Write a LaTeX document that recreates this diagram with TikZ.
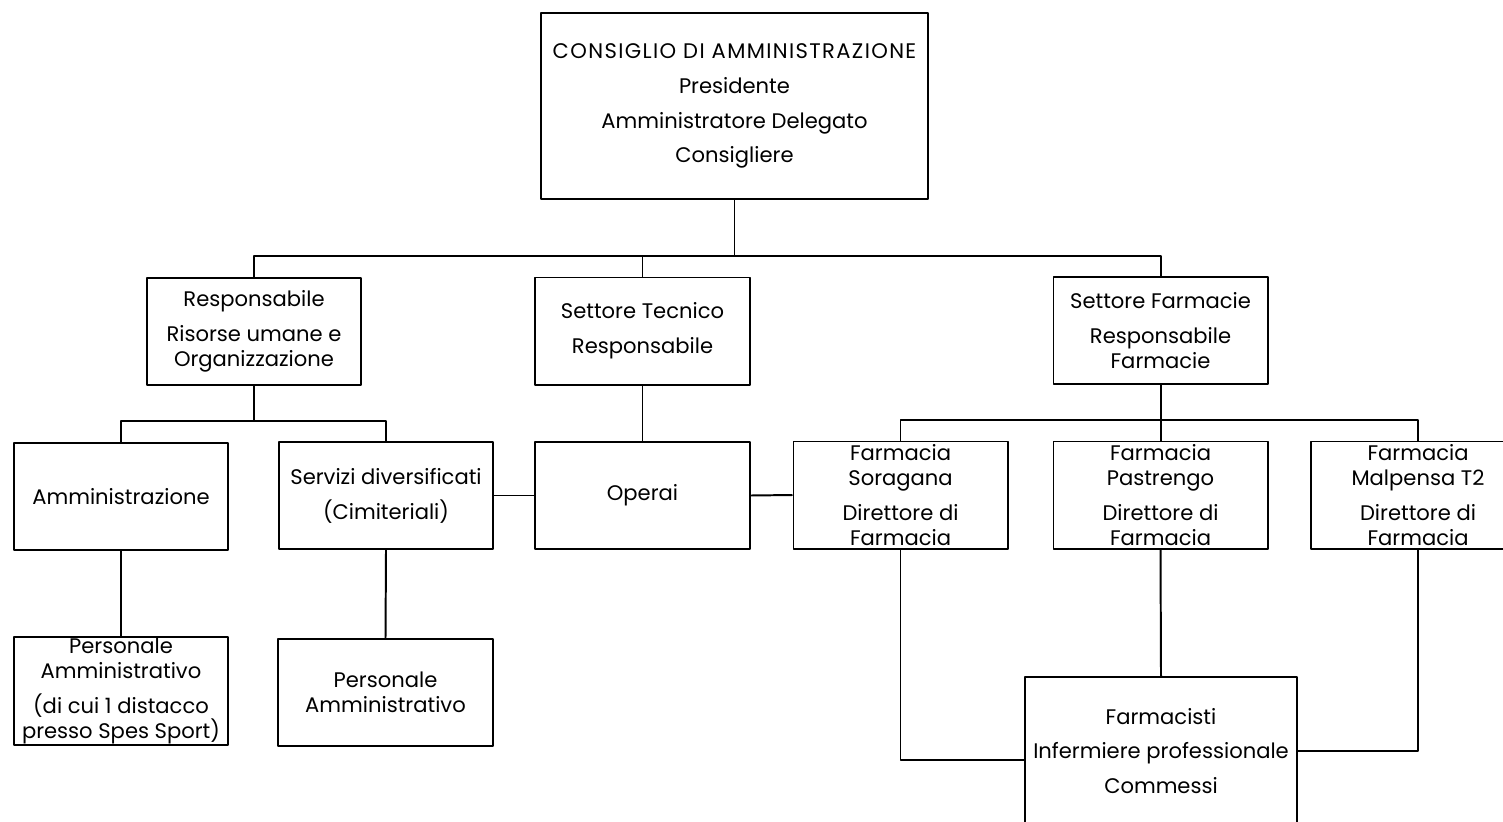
\documentclass[tikz,border=0pt]{standalone}
\usepackage{fontspec}
\setmainfont{Poppins}
\begin{document}
\begin{tikzpicture}[x=0.025cm,y=-0.025cm,line join=round,line width=1.4pt,font=\fontsize{15}{17.8}\selectfont,
	box/.style={draw,rectangle,inner sep=0pt,align=center,minimum width=5.35cm,minimum height=2.675cm}]
	\useasboundingbox (0,0) rectangle (1503,821);
	\node[box,minimum width=9.675cm,minimum height=4.65cm] (cda) at (734.5,106) {{\addfontfeatures{LetterSpace=6.5}CONSIGLIO DI AMMINISTRAZIONE}\\[7pt]Presidente\\[7pt]Amministratore Delegato\\[7pt]Consigliere};
	\node[box] (rru) at (254,331.5) {Responsabile\\[7pt]Risorse umane e\\Organizzazione};
	\node[box] (ste) at (642.5,331) {Settore Tecnico\\[7pt]Responsabile};
	\node[box] (sfa) at (1160.5,330.5) {Settore Farmacie\\[7pt]Responsabile\\Farmacie};
	\node[box] (amm) at (121,496.5) {Amministrazione};
	\node[box] (ser) at (386,495.5) {Servizi diversificati\\[7pt](Cimiteriali)};
	\node[box] (ope) at (642.5,495.5) {Operai};
	\node[box] (sor) at (900.5,495) {Farmacia\\Soragana\\[7pt]Direttore di\\Farmacia};
	\node[box] (pas) at (1160.5,495) {Farmacia\\Pastrengo\\[7pt]Direttore di\\Farmacia};
	\node[box] (mal) at (1418,495) {Farmacia\\Malpensa T2\\[7pt]Direttore di\\Farmacia};
	\node[box,minimum height=2.7cm] (pa1) at (121,691) {Personale\\Amministrativo\\[7pt](di cui 1 distacco\\presso Spes Sport)};
	\node[box] (pa2) at (385.5,692.5) {Personale\\Amministrativo};
	\node[box,minimum width=6.8cm,minimum height=3.7cm] (fmc) at (1161,751) {Farmacisti\\[7pt]Infermiere professionale\\[7pt]Commessi};
	\coordinate (bus1) at (734.5,256);
	\coordinate (bus2) at (254,421);
	\coordinate (bus3) at (1160.5,420);
	\draw (cda.south) -- (bus1);
	\draw (rru.north) |- (bus1) -| (sfa.north);
	\draw (ste.north) -- (ste.north |- bus1);
	\draw (rru.south) -- (bus2);
	\draw (amm.north) |- (bus2) -| (ser.north);
	\draw (ste.south) -- (ope.north);
	\draw (ser.east) -- (ope.west);
	\draw (ope.east) -- (sor.west);
	\draw (sfa.south) -- (bus3);
	\draw (sor.north) |- (bus3) -| (mal.north);
	\draw (pas.north) -- (pas.north |- bus3);
	\draw (amm.south) -- (pa1.north);
	\draw (ser.south) -- (pa2.north);
	\draw (pas.south) -- (fmc.north);
	\draw (sor.south) |- ([yshift=-0.225cm]fmc.west);
	\draw (mal.south) |- (fmc.east);
\end{tikzpicture}
\end{document}
